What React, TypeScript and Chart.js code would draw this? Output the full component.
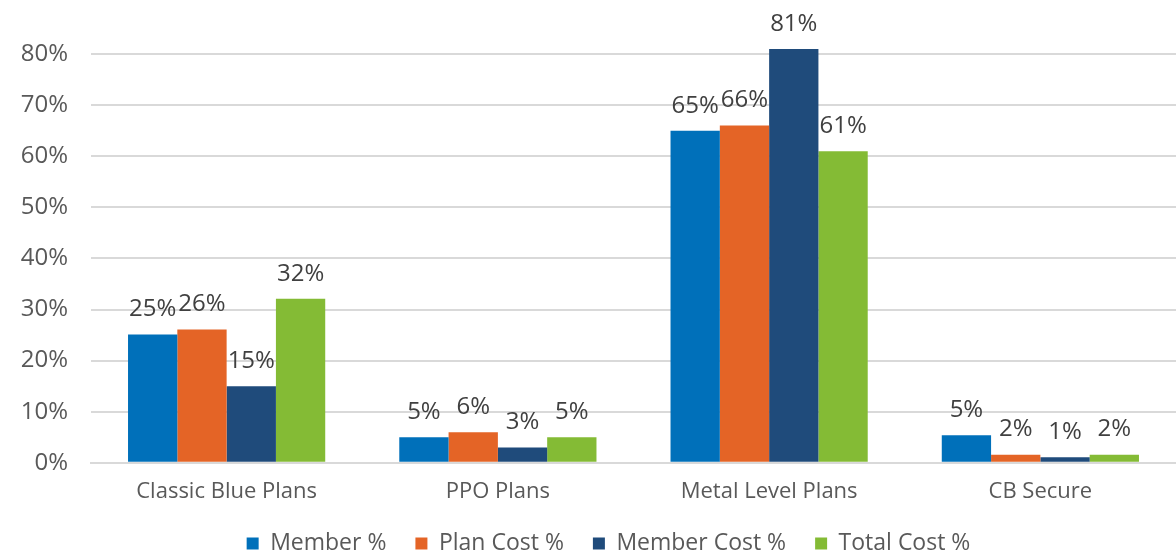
import React, { useEffect, useRef } from "react";
import { Chart, registerables } from "chart.js";

Chart.register(...registerables);

const categories = ["Classic Blue Plans", "PPO Plans", "Metal Level Plans", "CB Secure"];
const memberPct = [25.1, 5, 65, 5.4];
const planCostPct = [26.1, 6, 66, 1.6];
const memberCostPct = [15, 3, 81, 1.1];
const totalCostPct = [32.1, 5, 61, 1.6];
const seriesNames = ["Member %", "Plan Cost %", "Member Cost %", "Total Cost %"];
const seriesColors = ["#0070BA", "#E46426", "#1F4B7B", "#84BB35"];
const yTicks = [0, 10, 20, 30, 40, 50, 60, 70, 80];

const FONT = "'Open Sans', 'Noto Sans', sans-serif";

const labelPlugin = {
  id: "barLabels",
  afterLayout(chart: any) {
    // centre the legend row slightly right, as in the original
    if (chart.legend) chart.legend.left += 21;
  },
  afterDatasetsDraw(chart: any) {
    const ctx = chart.ctx;
    ctx.save();
    ctx.font = `24px ${FONT}`;
    ctx.fillStyle = "#404040";
    ctx.textAlign = "center";
    ctx.textBaseline = "middle";
    chart.data.datasets.forEach((ds: any, i: number) => {
      const meta = chart.getDatasetMeta(i);
      meta.data.forEach((bar: any, j: number) => {
        const v = ds.data[j];
        ctx.fillText(Math.round(v) + "%", bar.x, bar.y - 25);
      });
    });
    ctx.restore();
  },
};

export default function App() {
  const ref = useRef<HTMLCanvasElement>(null);
  useEffect(() => {
    document.body.style.margin = "0";
    const data = [memberPct, planCostPct, memberCostPct, totalCostPct];
    const chart = new Chart(ref.current!, {
      type: "bar",
      data: {
        labels: categories,
        datasets: seriesNames.map((n, i) => ({
          label: n,
          data: data[i],
          backgroundColor: seriesColors[i],
          borderWidth: 0,
          categoryPercentage: 0.727,
          barPercentage: 1,
        })),
      },
      options: {
        animation: false,
        responsive: false,
        maintainAspectRatio: false,
        layout: { padding: { top: 40, left: 20, right: 0, bottom: -14 } },
        scales: {
          x: {
            grid: { display: false, drawTicks: false },
            border: { color: "#D9D9D9", width: 2 },
            ticks: { color: "#595959", font: { family: FONT, size: 22 }, padding: 16 },
            afterFit: (axis: any) => {
              axis.height = 40.2;
            },
          },
          y: {
            min: 0,
            max: 82.75,
            afterBuildTicks: (axis: any) => {
              axis.ticks = yTicks.map((v) => ({ value: v }));
            },
            afterFit: (axis: any) => {
              axis.width = 71;
            },
            grid: { color: "#D9D9D9", lineWidth: 2, drawTicks: false },
            border: { display: false },
            ticks: {
              color: "#595959",
              font: { family: FONT, size: 24 },
              padding: 23,
              callback: (v: any) => v + "%",
            },
          },
        },
        plugins: {
          legend: {
            position: "bottom",
            labels: {
              color: "#595959",
              font: { family: FONT, size: 23 },
              boxWidth: 12,
              boxHeight: 12,
              padding: 29,
            },
          },
          tooltip: { enabled: false },
        },
      },
      plugins: [labelPlugin],
    });
    return () => chart.destroy();
  }, []);
  return (
    <div style={{ width: 1176, height: 551 }}>
      <canvas ref={ref} width={1176} height={551} />
    </div>
  );
}
